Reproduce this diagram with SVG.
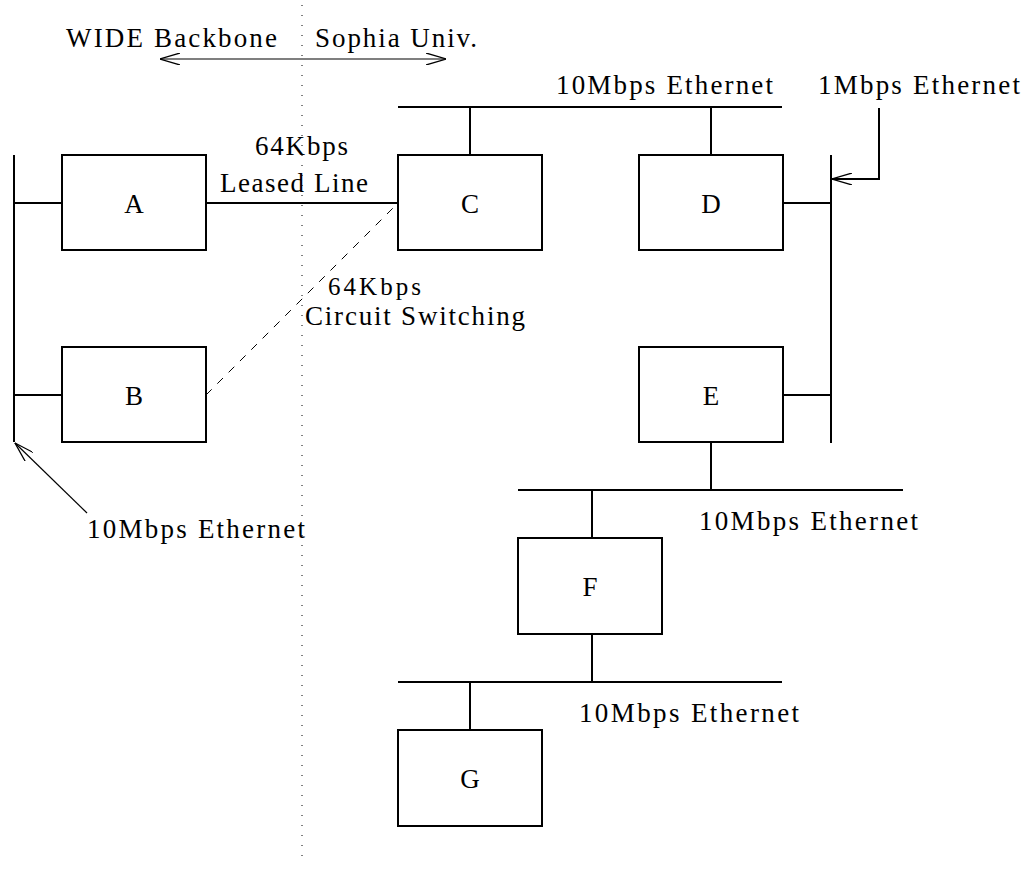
<svg xmlns="http://www.w3.org/2000/svg" width="1032" height="878" viewBox="0 0 1032 878">
<defs>
<marker id="arr" viewBox="0 0 20 12" refX="20" refY="6" markerWidth="20" markerHeight="12" markerUnits="userSpaceOnUse" orient="auto-start-reverse">
<path d="M0,0 L20,6 L0,12" fill="none" stroke="#000" stroke-width="1.3"/>
</marker>
<style>
.box{fill:#fff;stroke:#000;stroke-width:2}
.ln{stroke:#000;stroke-width:2;fill:none}
.thin{stroke:#000;stroke-width:1.2;fill:none}
.dash{stroke:#000;stroke-width:1;fill:none;stroke-dasharray:8 8}
.dot{stroke:#000;stroke-width:1;fill:none;stroke-dasharray:1 9}
text{font-family:"Liberation Serif","Times New Roman",serif;font-size:27px;fill:#000}
.sm{font-size:25px}
.lbl{text-anchor:middle}
</style>
</defs>
<rect width="1032" height="878" fill="#fff"/>
<g id="connectors">
<line class="dot" x1="302" y1="5" x2="302" y2="862"/>
<line class="thin" x1="160" y1="59" x2="446" y2="59" marker-start="url(#arr)" marker-end="url(#arr)"/>
<line class="ln" x1="14" y1="155" x2="14" y2="442"/>
<line class="ln" x1="14" y1="203" x2="62" y2="203"/>
<line class="ln" x1="14" y1="395" x2="62" y2="395"/>
<line class="thin" x1="87" y1="513" x2="15" y2="443" marker-end="url(#arr)"/>
<line class="ln" x1="206" y1="203" x2="398" y2="203"/>
<line class="dash" x1="206" y1="395" x2="398" y2="203"/>
<line class="ln" x1="398" y1="107" x2="782" y2="107"/>
<line class="ln" x1="470" y1="107" x2="470" y2="155"/>
<line class="ln" x1="711" y1="107" x2="711" y2="155"/>
<line class="ln" x1="831" y1="155" x2="831" y2="443"/>
<line class="ln" x1="783" y1="203" x2="831" y2="203"/>
<line class="ln" x1="783" y1="395" x2="831" y2="395"/>
<polyline class="ln" points="879,108 879,179 832,179" marker-end="url(#arr)"/>
<line class="ln" x1="711" y1="442" x2="711" y2="490"/>
<line class="ln" x1="518" y1="490" x2="903" y2="490"/>
<line class="ln" x1="592" y1="490" x2="592" y2="538"/>
<line class="ln" x1="592" y1="634" x2="592" y2="682"/>
<line class="ln" x1="398" y1="682" x2="782" y2="682"/>
<line class="ln" x1="470" y1="682" x2="470" y2="730"/>
</g>
<g id="labels">
<text x="66" y="47" textLength="211" lengthAdjust="spacing">WIDE Backbone</text>
<text x="315" y="47" textLength="162" lengthAdjust="spacing">Sophia Univ.</text>
<text x="255" y="155" textLength="93" lengthAdjust="spacing">64Kbps</text>
<text x="220" y="192" textLength="148" lengthAdjust="spacing">Leased Line</text>
<text class="sm" x="328" y="295" textLength="93" lengthAdjust="spacing">64Kbps</text>
<text x="305" y="325" textLength="220" lengthAdjust="spacing">Circuit Switching</text>
<text x="556" y="94" textLength="217" lengthAdjust="spacing">10Mbps Ethernet</text>
<text x="818" y="94" textLength="202" lengthAdjust="spacing">1Mbps Ethernet</text>
<text x="87" y="538" textLength="218" lengthAdjust="spacing">10Mbps Ethernet</text>
<text x="699" y="530" textLength="219" lengthAdjust="spacing">10Mbps Ethernet</text>
<text x="579" y="722" textLength="220" lengthAdjust="spacing">10Mbps Ethernet</text>
</g>
<g id="node-A"><rect class="box" x="62" y="155" width="144" height="95"/><text class="lbl" x="134" y="213">A</text></g>
<g id="node-B"><rect class="box" x="62" y="347" width="144" height="95"/><text class="lbl" x="134" y="405">B</text></g>
<g id="node-C"><rect class="box" x="398" y="155" width="144" height="95"/><text class="lbl" x="470" y="213">C</text></g>
<g id="node-D"><rect class="box" x="639" y="155" width="144" height="95"/><text class="lbl" x="711" y="213">D</text></g>
<g id="node-E"><rect class="box" x="639" y="347" width="144" height="95"/><text class="lbl" x="711" y="405">E</text></g>
<g id="node-F"><rect class="box" x="518" y="538" width="144" height="96"/><text class="lbl" x="590" y="596">F</text></g>
<g id="node-G"><rect class="box" x="398" y="730" width="144" height="96"/><text class="lbl" x="470" y="788">G</text></g>
</svg>
